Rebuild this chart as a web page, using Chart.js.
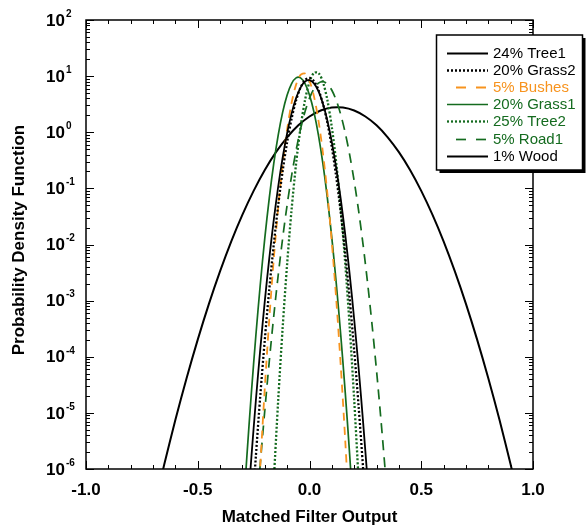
<!DOCTYPE html>
<html>
<head>
<meta charset="utf-8">
<script src="https://cdn.jsdelivr.net/npm/chart.js@4.4.0/dist/chart.umd.min.js"></script>
<style>
  html, body { margin: 0; padding: 0; background: #fff; }
  #wrap { width: 586px; height: 525px; }
</style>
</head>
<body>
<div id="wrap"><canvas id="pdf" width="586" height="525"></canvas></div>
<script>
// ============================================================
// PDF of matched filter output, per material (log y axis)
// ============================================================

// ---------- Data ----------
const TREE1_X = [-0.28, -0.26, -0.24, -0.22, -0.20, -0.18, -0.16, -0.14, -0.12, -0.10, -0.08, -0.06, -0.04, -0.02, 0.00,
  0.02, 0.04, 0.06, 0.08, 0.10, 0.12, 0.14, 0.16, 0.18, 0.20, 0.22, 0.24, 0.26, 0.28];
const TREE1_Y = [1.32e-7, 1.63e-6, 1.66e-5, 1.40e-4, 9.79e-4, 5.68e-3, 2.72e-2, 0.108, 0.355, 0.965, 2.17, 4.05, 6.25, 8.00, 8.46,
  7.41, 5.38, 3.23, 1.61, 0.661, 0.225, 0.0637, 0.0149, 2.88e-3, 4.61e-4, 6.11e-5, 6.71e-6, 6.10e-7, 4.59e-8];

const GRASS2_X = [-0.26, -0.24, -0.22, -0.20, -0.18, -0.16, -0.14, -0.12, -0.10, -0.08, -0.06, -0.04, -0.02, 0.00,
  0.02, 0.04, 0.06, 0.08, 0.10, 0.12, 0.14, 0.16, 0.18, 0.20, 0.22, 0.24, 0.26];
const GRASS2_Y = [1.11e-7, 1.69e-6, 2.06e-5, 2.01e-4, 1.58e-3, 9.93e-3, 0.0504, 0.205, 0.668, 1.75, 3.70, 6.25, 8.50, 9.28,
  8.14, 5.73, 3.24, 1.47, 0.537, 0.157, 0.0370, 7.00e-3, 1.06e-3, 1.29e-4, 1.27e-5, 9.98e-7, 6.30e-8];

const BUSHES_X = [-0.24, -0.22, -0.20, -0.18, -0.16, -0.14, -0.12, -0.10, -0.08, -0.06, -0.04, -0.02, 0.00,
  0.02, 0.04, 0.06, 0.08, 0.10, 0.12, 0.14, 0.16, 0.18];
const BUSHES_Y = [3.56e-8, 1.18e-6, 2.78e-5, 4.63e-4, 5.47e-3, 0.0457, 0.270, 1.13, 3.36, 7.06, 10.5, 11.1, 8.25,
  4.36, 1.63, 0.431, 0.0808, 0.0107, 1.01e-3, 6.71e-5, 3.16e-6, 1.05e-7];

const GRASS1_X = [-0.30, -0.28, -0.26, -0.24, -0.22, -0.20, -0.18, -0.16, -0.14, -0.12, -0.10, -0.08, -0.06, -0.04, -0.02, 0.00,
  0.02, 0.04, 0.06, 0.08, 0.10, 0.12, 0.14, 0.16, 0.18, 0.20];
const GRASS1_Y = [1.03e-7, 1.73e-6, 2.29e-5, 2.39e-4, 1.98e-3, 0.0130, 0.0671, 0.275, 0.889, 2.28, 4.61, 7.37, 9.32, 9.32, 7.37, 4.61,
  2.28, 0.889, 0.275, 0.0671, 0.0130, 1.98e-3, 2.39e-4, 2.29e-5, 1.73e-6, 1.03e-7];

const TREE2_X = [-0.18, -0.16, -0.14, -0.12, -0.10, -0.08, -0.06, -0.04, -0.02, 0.00,
  0.02, 0.04, 0.06, 0.08, 0.10, 0.12, 0.14, 0.16, 0.18, 0.20, 0.22, 0.24];
const TREE2_Y = [1.42e-8, 5.92e-7, 1.70e-5, 3.35e-4, 4.55e-3, 0.0427, 0.275, 1.22, 3.74, 7.88,
  11.4, 11.4, 7.88, 3.74, 1.22, 0.275, 0.0427, 4.55e-3, 3.35e-4, 1.70e-5, 5.92e-7, 1.42e-8];

const ROAD1_X = [-0.24, -0.22, -0.20, -0.18, -0.16, -0.14, -0.12, -0.10, -0.08, -0.06, -0.04, -0.02, 0.00,
  0.02, 0.04, 0.06, 0.08, 0.10, 0.12, 0.14, 0.16, 0.18, 0.20, 0.22, 0.24, 0.26, 0.28, 0.30, 0.32, 0.34, 0.36];
const ROAD1_Y = [1.22e-7, 1.26e-6, 1.11e-5, 8.28e-5, 5.26e-4, 2.84e-3, 0.0130, 0.0508, 0.169, 0.476, 1.14, 2.33, 4.05,
  5.97, 7.49, 7.99, 7.25, 5.60, 3.67, 2.05, 0.971, 0.392, 0.134, 0.0392, 9.73e-3, 2.05e-3, 3.68e-4, 5.62e-5, 7.28e-6, 8.04e-7, 7.53e-8];

const WOOD_X = [-0.70, -0.65, -0.60, -0.55, -0.50, -0.45, -0.40, -0.35, -0.30, -0.25, -0.20, -0.15, -0.10, -0.05, 0.00,
  0.05, 0.10, 0.15, 0.20, 0.25, 0.30, 0.35, 0.40, 0.45, 0.50, 0.55, 0.60, 0.65, 0.70, 0.75, 0.80, 0.85, 0.90, 0.95];
const WOOD_Y = [1.71e-7, 1.20e-6, 7.51e-6, 4.14e-5, 2.02e-4, 8.76e-4, 3.35e-3, 0.0114, 0.0341, 0.0904, 0.213, 0.442, 0.814, 1.33, 1.91,
  2.44, 2.76, 2.76, 2.44, 1.91, 1.33, 0.814, 0.442, 0.213, 0.0904, 0.0341, 0.0114, 3.35e-3, 8.76e-4, 2.02e-4, 4.14e-5, 7.51e-6, 1.20e-6, 1.71e-7];

const SERIES_LABELS = ["24% Tree1", "20% Grass2", "5% Bushes", "20% Grass1", "25% Tree2", "5% Road1", "1% Wood"];

// ---------- Axis ticks ----------
const X_TICKS = [-1.0, -0.5, 0.0, 0.5, 1.0];
const X_TICK_LABELS = ["-1.0", "-0.5", "0.0", "0.5", "1.0"];
const X_MINOR_TICKS = [-0.9, -0.8, -0.7, -0.6, -0.4, -0.3, -0.2, -0.1, 0.1, 0.2, 0.3, 0.4, 0.6, 0.7, 0.8, 0.9];
const Y_EXPONENTS = [-6, -5, -4, -3, -2, -1, 0, 1, 2];
const Y_EXP_LABELS = ["-6", "-5", "-4", "-3", "-2", "-1", "0", "1", "2"];

const BLACK = "#000000";
const ORANGE = "#f7931e";
const GREEN = "#146b1f";
const FONT = "'Liberation Sans', Arial, Helvetica, sans-serif";

function pts(xs, ys) {
  return xs.map((x, i) => ({ x, y: ys[i] }));
}

function series(label, xs, ys, color, dash, width, legendDash, legendStart) {
  return {
    label,
    data: pts(xs, ys),
    showLine: true,
    borderColor: color,
    backgroundColor: color,
    borderDash: dash,
    borderWidth: width,
    pointRadius: 0,
    tension: 0.3,
    clip: 0,
    legendDash,
    legendStart,
  };
}

const datasets = [
  series(SERIES_LABELS[0], TREE1_X, TREE1_Y, BLACK, [], 1.8, [], 447),
  series(SERIES_LABELS[1], GRASS2_X, GRASS2_Y, BLACK, [2, 2], 2.3, [2, 2], 447),
  series(SERIES_LABELS[2], BUSHES_X, BUSHES_Y, ORANGE, [8, 6], 1.8, [10, 10], 456),
  series(SERIES_LABELS[3], GRASS1_X, GRASS1_Y, GREEN, [], 1.7, [], 447),
  series(SERIES_LABELS[4], TREE2_X, TREE2_Y, GREEN, [2, 2], 2.3, [2, 2], 447),
  series(SERIES_LABELS[5], ROAD1_X, ROAD1_Y, GREEN, [10, 7], 1.7, [10, 10], 456),
  series(SERIES_LABELS[6], WOOD_X, WOOD_Y, BLACK, [], 2, [], 447),
];

// ---------- Frame, ticks, labels ----------
const framePlugin = {
  id: "frame",
  afterDatasetsDraw(chart) {
    const { ctx, chartArea: a, scales } = chart;
    const xs = scales.x, ys = scales.y;
    ctx.save();
    ctx.setLineDash([]);
    ctx.strokeStyle = BLACK;

    // ticks (inside, on all four sides)
    ctx.lineWidth = 1;
    const vTick = (v, len) => {
      const px = Math.round(xs.getPixelForValue(v)) + 0.5;
      ctx.beginPath();
      ctx.moveTo(px, a.bottom); ctx.lineTo(px, a.bottom - len);
      ctx.moveTo(px, a.top); ctx.lineTo(px, a.top + len);
      ctx.stroke();
    };
    const hTick = (v, len) => {
      const py = Math.round(ys.getPixelForValue(v)) + 0.5;
      ctx.beginPath();
      ctx.moveTo(a.left, py); ctx.lineTo(a.left + len, py);
      ctx.moveTo(a.right, py); ctx.lineTo(a.right - len, py);
      ctx.stroke();
    };
    X_MINOR_TICKS.forEach(v => vTick(v, 4));
    X_TICKS.forEach(v => vTick(v, 8));
    Y_EXPONENTS.forEach(e => {
      hTick(Math.pow(10, e), 8);
      if (e < 2) for (let m = 2; m <= 9; m++) hTick(m * Math.pow(10, e), 4);
    });

    // border
    ctx.lineWidth = 1.5;
    ctx.strokeRect(a.left, a.top, a.right - a.left, a.bottom - a.top);

    // x tick labels
    ctx.fillStyle = BLACK;
    ctx.font = "bold 17px " + FONT;
    ctx.textAlign = "center";
    ctx.textBaseline = "middle";
    X_TICKS.forEach((v, i) => ctx.fillText(X_TICK_LABELS[i], xs.getPixelForValue(v), a.bottom + 21));

    // y tick labels: 10 with superscript exponent
    Y_EXPONENTS.forEach((e, i) => {
      const py = ys.getPixelForValue(Math.pow(10, e));
      ctx.font = "bold 17px " + FONT;
      ctx.textAlign = "right";
      ctx.textBaseline = "middle";
      ctx.fillText("10", a.left - 21, py + 1);
      ctx.font = "bold 10px " + FONT;
      ctx.textAlign = "left";
      ctx.fillText(Y_EXP_LABELS[i], a.left - 20, py - 6);
    });

    // axis titles
    ctx.font = "bold 17px " + FONT;
    ctx.textAlign = "center";
    ctx.textBaseline = "middle";
    ctx.fillText("Matched Filter Output", (a.left + a.right) / 2, 517);
    ctx.save();
    ctx.translate(19, 240);
    ctx.rotate(-Math.PI / 2);
    ctx.fillText("Probability Density Function", 0, 0);
    ctx.restore();
    ctx.restore();
  },
  afterDraw(chart) {
    const { ctx } = chart;
    const bx = 436.5, by = 35, bw = 146, bh = 135;
    ctx.save();
    // shadow + box
    ctx.fillStyle = BLACK;
    ctx.fillRect(bx + 3, by + 3, bw, bh);
    ctx.fillStyle = "#ffffff";
    ctx.fillRect(bx, by, bw, bh);
    ctx.strokeStyle = BLACK;
    ctx.lineWidth = 1.5;
    ctx.setLineDash([]);
    ctx.strokeRect(bx, by, bw, bh);

    ctx.font = "15px " + FONT;
    ctx.textAlign = "left";
    ctx.textBaseline = "middle";
    chart.data.datasets.forEach((ds, i) => {
      const ry = 52.5 + i * 17.2;
      ctx.strokeStyle = ds.borderColor;
      ctx.lineWidth = ds.borderWidth;
      ctx.setLineDash(ds.legendDash);
      ctx.beginPath();
      ctx.moveTo(ds.legendStart, Math.round(ry) + 0.5);
      ctx.lineTo(488, Math.round(ry) + 0.5);
      ctx.stroke();
      ctx.fillStyle = ds.borderColor;
      ctx.fillText(ds.label, 493, ry + 1);
    });
    ctx.restore();
  },
};

new Chart(document.getElementById("pdf"), {
  type: "scatter",
  data: { datasets },
  options: {
    responsive: false,
    animation: false,
    devicePixelRatio: 1,
    layout: { padding: { left: 86, right: 53, top: 20, bottom: 56 } },
    plugins: { legend: { display: false }, tooltip: { enabled: false } },
    scales: {
      x: { type: "linear", min: -1, max: 1, display: false },
      y: { type: "logarithmic", min: 1e-6, max: 1e2, display: false },
    },
  },
  plugins: [framePlugin],
});
</script>
</body>
</html>
